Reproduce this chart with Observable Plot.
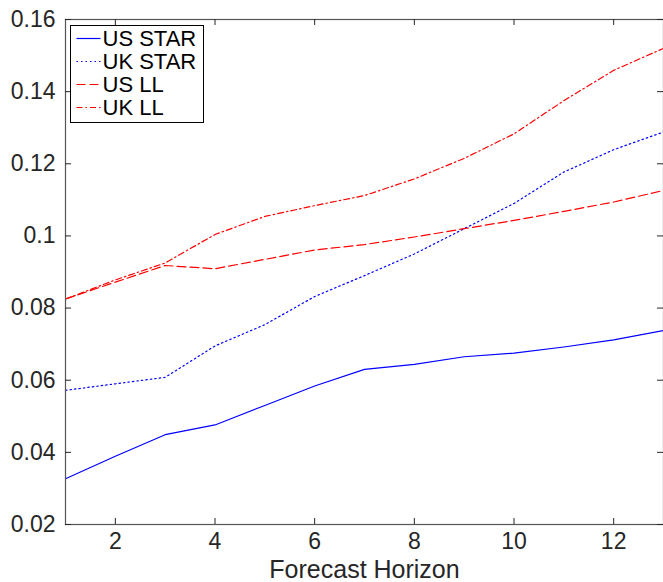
<!DOCTYPE html>
<html><head><meta charset="utf-8">
<script src="https://cdn.jsdelivr.net/npm/d3@7"></script>
<script src="https://cdn.jsdelivr.net/npm/@observablehq/plot@0.6"></script>
<style>body{margin:0;background:#fff;} svg{overflow:visible}</style>
</head><body><div id="chart"></div>
<script>
const horizons = [1,2,3,4,5,6,7,8,9,10,11,12,13];
const usStar = [0.0327,0.0389,0.0449,0.0476,0.0530,0.0584,0.0630,0.0644,0.0665,0.0675,0.0692,0.0712,0.0738];
const ukStar = [0.0572,0.0590,0.0608,0.0695,0.0754,0.0832,0.0890,0.0950,0.1020,0.1090,0.1177,0.1239,0.1288];
const usLL   = [0.0825,0.0872,0.0918,0.0909,0.0935,0.0961,0.0976,0.0997,0.1020,0.1043,0.1068,0.1094,0.1126];
const ukLL   = [0.0825,0.0878,0.0925,0.1004,0.1054,0.1084,0.1112,0.1158,0.1215,0.1283,0.1375,0.1459,0.1520];
const seriesNames = ["US STAR","UK STAR","US LL","UK LL"];
const seriesValues = [usStar, ukStar, usLL, ukLL];
const seriesColors = ["#0000ff","#0000ff","#ff0000","#ff0000"];
const seriesDashes = [null,"1.5,3","9,4","6,3,1.5,3"];
const xTicks = [2,4,6,8,10,12];
const xTickLabels = ["2","4","6","8","10","12"];
const yTicks = [0.02,0.04,0.06,0.08,0.1,0.12,0.14,0.16];
const yTickLabels = ["0.02","0.04","0.06","0.08","0.1","0.12","0.14","0.16"];
const xLabel = "Forecast Horizon";

const rows = seriesNames.flatMap((name, s) => horizons.map((h, i) => ({series: name, h, v: seriesValues[s][i]})));

const W = 663, H = 582, mL = 65, mR = 0, mT = 19, mB = 58;
const tickLen = 6;
const pw = W - mL - mR, ph = H - mT - mB;
const axisColor = "#262626";
const font = "'Liberation Sans', Arial, Helvetica, sans-serif";

const chart = Plot.plot({
  width: W, height: H,
  marginLeft: mL, marginRight: mR, marginTop: mT, marginBottom: mB,
  style: {fontFamily: font, fontSize: "23px", color: axisColor, background: "white", overflow: "visible"},
  x: {domain: [1, 13], label: null},
  y: {domain: [0.02, 0.16], label: null},
  marks: [
    ...seriesNames.map((name, s) => Plot.line(rows.filter(r => r.series === name), {
      x: "h", y: "v", stroke: seriesColors[s], strokeWidth: 1.2,
      strokeDasharray: seriesDashes[s] ?? undefined
    })),
    Plot.frame({stroke: "#555", strokeWidth: 1.2}),
    Plot.tickX(xTicks, {x: d => d, insetTop: ph - tickLen, stroke: axisColor}),
    Plot.tickX(xTicks, {x: d => d, insetBottom: ph - tickLen, stroke: axisColor}),
    Plot.tickY(yTicks, {y: d => d, insetRight: pw - tickLen, stroke: axisColor}),
    Plot.tickY(yTicks, {y: d => d, insetLeft: pw - tickLen, stroke: axisColor}),
    Plot.axisX({ticks: xTicks, tickSize: 0, tickPadding: 8, label: null, tickFormat: d => xTickLabels[xTicks.indexOf(d)], fill: axisColor}),
    Plot.axisY({ticks: yTicks, tickSize: 0, tickPadding: 10, label: null, tickFormat: d => yTickLabels[yTicks.indexOf(d)], fill: axisColor}),
    Plot.text([xLabel], {text: d => d, frameAnchor: "bottom", dy: 53, fontSize: 25, fill: axisColor})
  ]
});
document.getElementById("chart").append(chart);

// in-plot legend (MATLAB style, upper-left)
const svg = d3.select(chart);
const lg = svg.append("g").attr("transform", "translate(70.5,25.5)");
lg.append("rect").attr("width", 133).attr("height", 97).attr("fill", "white").attr("stroke", "black").attr("stroke-width", 1);
seriesNames.forEach((name, s) => {
  const y = 13 + s * 23;
  lg.append("line").attr("x1", 6).attr("x2", 30).attr("y1", y).attr("y2", y)
    .style("stroke", seriesColors[s]).style("stroke-width", 1.2)
    .style("stroke-dasharray", seriesDashes[s] || "none");
  lg.append("text").attr("x", 32).attr("y", y).attr("dy", "0.36em")
    .attr("text-anchor", "start")
    .attr("font-size", 22).attr("fill", "black")
    .attr("font-family", font)
    .text(name);
});
</script>
</body></html>
